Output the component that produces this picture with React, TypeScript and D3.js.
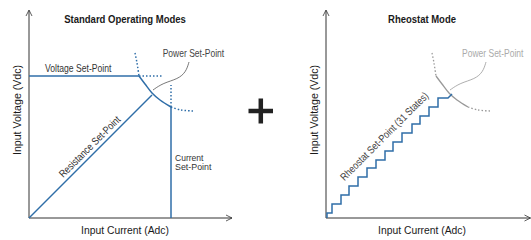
import { useRef, useEffect } from 'react';
import * as d3 from 'd3';

// values in arbitrary units (0-100)
const voltageSetPoint = 71;
const currentSetPoint = 71;
const powerCurveTop: [number, number][] = [[53, 82.5], [54, 77.5], [55, 71]];
const powerCurveSolid: [number, number][] = [[55, 71], [58, 67], [61.5, 62.5], [65.5, 59], [71, 55.5]];
const powerCurveBottom: [number, number][] = [[71, 55.5], [76, 54], [82, 53.5]];
const resistanceLine: [number, number][] = [[0, 0], [61.5, 61.5]];
const voltageDotted: [number, number][] = [[55, 71], [67, 71]];
const currentDotted: [number, number][] = [[71, 55.5], [71, 66.5]];
const leaderPoints: [number, number][] = [[80, 78], [78.5, 73], [74.5, 69.5], [67, 67.5], [62, 64]];

// rheostat staircase: current where each step rises, voltage after the rise
const stepCurrents = [0.5, 3, 7.5, 11.5, 16, 20.5, 25, 29.5, 33.5, 38, 43, 47, 51.5, 56];
const stepVoltages = [2.5, 7, 11.5, 16, 20.5, 25, 29, 33.5, 38, 42.5, 47, 51, 55.5, 60];
const rheostatEnd: [number, number][] = [[61, 60], [63, 62]];

// condensed look: Liberation Sans squeezed horizontally to the widths in the picture
const FONT = '"Liberation Sans", Arial, sans-serif';
const BLUE = '#2f6ea8';
const AXIS = '#333';

export default function App() {
    const svgRef = useRef<SVGSVGElement>(null);

    useEffect(() => {
        if (!svgRef.current) return;
        const svg = d3.select(svgRef.current);
        svg.selectAll('*').remove();

        // text squeezed with a scale transform; (x, y) is the anchor, rot in degrees
        const label = (g: any, txt: string, len: number, size: number, color: string,
            x: number, y: number, opts: { bold?: boolean; anchor?: string; rot?: number; dy?: number } = {}) => {
            const t = g.append('text')
                .attr('font-family', FONT).attr('font-size', `${size}px`)
                .attr('font-weight', opts.bold ? 'bold' : 'normal')
                .attr('text-anchor', opts.anchor ?? 'start')
                .attr('fill', color)
                .attr('dy', opts.dy ?? 0)
                .text(txt);
            const natural = (t.node() as SVGTextElement).getComputedTextLength() || len;
            t.attr('transform', `translate(${x},${y}) rotate(${opts.rot ?? 0}) scale(${len / natural},1)`);
            return t;
        };

        const drawPanel = (x0: number, title: string, titleLen: number, axisEnd: number) => {
            const x = d3.scaleLinear().domain([0, 100]).range([x0, x0 + 200]);
            const y = d3.scaleLinear().domain([0, 100]).range([218, 18]);
            const g = svg.append('g');
            const line = d3.line<[number, number]>().x(d => x(d[0])).y(d => y(d[1]));

            // axes with open arrowheads
            g.append('path')
                .attr('d', `M${x0},10.5 V218 H${axisEnd}`)
                .attr('fill', 'none').attr('stroke', AXIS).attr('stroke-width', 1);
            g.append('path')
                .attr('d', `M${x0 - 3},16 L${x0},10 L${x0 + 3},16`)
                .attr('fill', 'none').attr('stroke', AXIS).attr('stroke-width', 0.8);
            g.append('path')
                .attr('d', `M${axisEnd - 6},215 L${axisEnd},218 L${axisEnd - 6},221`)
                .attr('fill', 'none').attr('stroke', AXIS).attr('stroke-width', 0.8);

            label(g, title, titleLen, 11.5, '#1a1a1a', x(48), 23, { bold: true, anchor: 'middle' });
            label(g, 'Input Voltage (Vdc)', 90, 11.5, '#1a1a1a', x0 - 8.5, 110, { anchor: 'middle', rot: -90 });
            label(g, 'Input Current (Adc)', 88, 11.5, '#1a1a1a', x(48), 234, { anchor: 'middle' });

            return { g, x, y, line };
        };

        // ---- left panel
        const L = drawPanel(29, 'Standard Operating Modes', 122, 232);
        const solid = (pts: [number, number][]) =>
            L.g.append('path').attr('d', L.line(pts)).attr('fill', 'none')
                .attr('stroke', BLUE).attr('stroke-width', 1.5);
        const dotted = (pts: [number, number][]) =>
            L.g.append('path').attr('d', L.line(pts)).attr('fill', 'none')
                .attr('stroke', BLUE).attr('stroke-width', 1.5).attr('stroke-dasharray', '1.5,2');

        solid([[0, voltageSetPoint], powerCurveSolid[0]]);
        solid([[currentSetPoint, 0], powerCurveSolid[powerCurveSolid.length - 1]]);
        solid(resistanceLine);
        dotted(voltageDotted);
        dotted(currentDotted);

        const curved = d3.line<[number, number]>().x(d => L.x(d[0])).y(d => L.y(d[1])).curve(d3.curveCatmullRom);
        L.g.append('path').attr('d', curved(powerCurveSolid))
            .attr('fill', 'none').attr('stroke', BLUE).attr('stroke-width', 1.5);
        [powerCurveTop, powerCurveBottom].forEach(pts =>
            L.g.append('path').attr('d', curved(pts)).attr('fill', 'none')
                .attr('stroke', BLUE).attr('stroke-width', 1.5).attr('stroke-dasharray', '1.5,2'));
        L.g.append('path').attr('d', curved.curve(d3.curveBasis)(leaderPoints))
            .attr('fill', 'none').attr('stroke', '#555').attr('stroke-width', 0.8);

        label(L.g, 'Voltage Set-Point', 66.5, 10.5, '#333', 45, 71.5);
        label(L.g, 'Power Set-Point', 61.5, 10.5, '#444', 162.7, 57);
        label(L.g, 'Current', 28.5, 9.5, '#333', 175, 160.5);
        label(L.g, 'Set-Point', 36.5, 9.5, '#333', 175, 170);
        label(L.g, 'Resistance Set-Point', 82, 10.5, '#333', L.x(33), L.y(33),
            { anchor: 'middle', rot: -45, dy: -4 });

        // ---- plus sign
        svg.append('path')
            .attr('d', 'M248.5,111 H273 M260.8,98.5 V123.5')
            .attr('stroke', '#222').attr('stroke-width', 4.5);

        // ---- right panel
        const R = drawPanel(326, 'Rheostat Mode', 68, 530.5);
        const rc = d3.line<[number, number]>().x(d => R.x(d[0])).y(d => R.y(d[1])).curve(d3.curveCatmullRom);
        [powerCurveTop, powerCurveBottom].forEach(pts =>
            R.g.append('path').attr('d', rc(pts)).attr('fill', 'none')
                .attr('stroke', '#999').attr('stroke-width', 1.3).attr('stroke-dasharray', '1.5,2'));
        R.g.append('path').attr('d', rc(powerCurveSolid)).attr('fill', 'none')
            .attr('stroke', '#999').attr('stroke-width', 1.3);
        R.g.append('path').attr('d', rc.curve(d3.curveBasis)(leaderPoints))
            .attr('fill', 'none').attr('stroke', '#999').attr('stroke-width', 0.8);

        const stairs: [number, number][] = [[stepCurrents[0], 0]];
        stepCurrents.forEach((c, i) => {
            stairs.push([c, stepVoltages[i]]);
            const next = i + 1 < stepCurrents.length ? stepCurrents[i + 1] : rheostatEnd[0][0];
            stairs.push([next, stepVoltages[i]]);
        });
        stairs.push(rheostatEnd[1]);
        R.g.append('path').attr('d', R.line(stairs)).attr('fill', 'none')
            .attr('stroke', BLUE).attr('stroke-width', 1.5);

        label(R.g, 'Power Set-Point', 61.5, 10.5, '#aaa', R.x(68), 57);
        label(R.g, 'Rheostat Set-Point (31 States)', 120, 10.5, '#444', R.x(35), R.y(35),
            { anchor: 'middle', rot: -45, dy: -13 });
    }, []);

    return (
        <div style={{ position: 'absolute', left: 0, top: 0 }}>
            <svg ref={svgRef} width={531} height={240} style={{ display: 'block', background: '#fff' }} />
        </div>
    );
}
